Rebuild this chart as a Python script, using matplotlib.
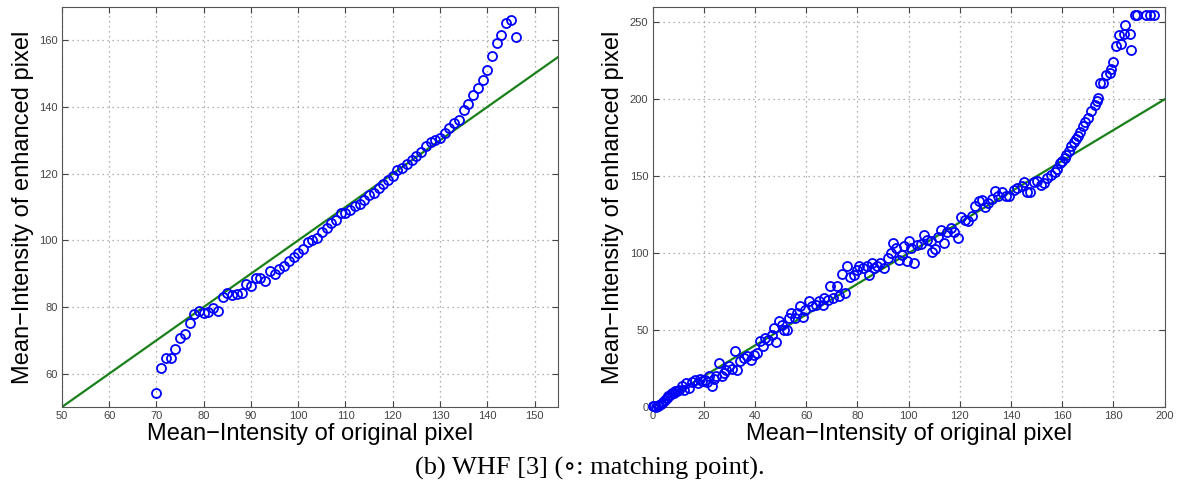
import numpy as np
import matplotlib as mpl
mpl.use('Agg')
import matplotlib.pyplot as plt

# left panel: matching points (original mean intensity -> enhanced mean intensity)
x_left = list(range(70, 147))
y_left = [54.1, 61.6, 64.8, 64.8, 67.3, 70.8, 72.0, 75.3, 77.8, 78.8,
          78.2, 78.6, 79.7, 78.9, 83.0, 84.3, 83.5, 83.9, 84.3, 86.8,
          86.3, 88.8, 88.8, 87.9, 90.7, 90.0, 91.4, 92.3, 93.8, 94.9,
          96.1, 97.4, 99.5, 100.2, 100.7, 102.5, 103.7, 105.2, 106.2, 108.2,
          108.2, 109.0, 110.2, 110.8, 112.2, 113.7, 114.2, 115.7, 117.0, 118.2,
          119.2, 121.2, 121.7, 123.0, 124.0, 125.4, 126.4, 128.2, 129.4, 130.0,
          130.7, 132.2, 133.7, 135.2, 136.2, 139.2, 140.8, 143.6, 145.6, 148.1,
          151.1, 155.3, 159.1, 161.6, 165.3, 166.1, 160.9]

# right panel
x_right = [0, 0.7, 1.3, 2, 2.7, 3.4, 4, 4.8, 5.5, 6.2, 7, 7.5, 8.2, 8.9, 9.6,
           10.3, 11.4, 12.3, 13, 14.4, 15.5, 16.4, 17.8, 18.5, 19.2, 20.5, 21.2,
           22, 23.3, 24, 24.7, 26, 27, 28, 28.8, 30, 31, 32.2, 33, 34, 35.6, 37,
           38.4, 39.7, 40.7, 41.8, 43, 43.8, 45.2, 46.6, 47.3, 48.4, 49.3, 50.4,
           51.4, 52.5, 53.4, 54.1, 55.5, 56.6, 57.5, 58.9, 59.6, 61, 62.3, 63.7,
           65, 66.4, 67, 68.5, 69.2, 70.5, 72, 72.9, 74, 75.3, 76, 77, 78.5, 79.9,
           80.8, 82.2, 83.6, 84.7, 85.6, 86.6, 87.7, 89, 90.4, 91.8, 93.2, 94.1,
           95.2, 96.3, 97.3, 98.2, 99.3, 100, 101, 102, 103.4, 104.8, 106.2,
           107.3, 108.6, 109.2, 110.5, 111.6, 112.7, 114, 115, 116.4, 117.8,
           119.2, 120.5, 122, 123.3, 124.7, 126, 127.4, 128.8, 130, 131, 132.5,
           133.6, 135, 136.6, 138, 139.3, 141, 142.5, 144.2, 145, 146.2, 147.5,
           149, 150, 151.6, 152.7, 154, 155.5, 157, 158, 159, 160, 161, 161.6,
           162.5, 163.5, 164.5, 165.3, 166, 167, 168, 169, 170, 171.4, 172.7,
           173.5, 174, 174.6, 175.9, 177.2, 178.5, 179.2, 180, 181, 182, 183,
           184, 184.7, 186.3, 187, 188.3, 189.2, 192.8, 194.1, 195.7]
y_right = [0.5, 0.4, 0.0, 0.9, 1.5, 2.2, 3.5, 4.8, 6.0, 7.0, 8.0, 9.0, 8.8, 10.2,
           10.5, 11.3, 13.4, 11.3, 15.6, 12.3, 16.0, 17.8, 15.6, 18.0, 17.1, 17.8,
           16.5, 20.0, 13.9, 18.5, 20.0, 28.6, 20.4, 22.0, 24.3, 26.4, 24.7, 36.2,
           24.3, 29.7, 31.8, 33.0, 30.8, 34.0, 35.0, 42.7, 39.4, 44.8, 43.8, 47.0,
           51.3, 42.0, 55.7, 53.5, 50.3, 50.3, 57.8, 61.0, 57.8, 61.0, 65.4, 58.5,
           63.2, 68.7, 65.4, 66.5, 68.7, 66.5, 70.8, 69.8, 78.4, 70.8, 78.4, 72.0,
           86.7, 74.0, 91.4, 84.5, 86.0, 88.8, 91.4, 90.3, 91.4, 85.6, 93.6, 90.3,
           91.4, 93.6, 90.3, 96.8, 100.0, 106.6, 103.3, 95.7, 99.0, 104.4, 94.7,
           108.0, 103.3, 93.6, 105.5, 106.2, 112.0, 108.7, 108.0, 100.7, 102.7,
           110.5, 115.2, 106.6, 114.0, 116.3, 114.0, 109.8, 123.5, 121.7, 120.7,
           124.3, 130.8, 133.7, 134.7, 130.0, 132.6, 135.2, 140.2, 137.0, 140.0,
           137.0, 137.3, 140.8, 142.3, 143.4, 146.0, 140.0, 140.0, 146.0, 146.7,
           144.5, 145.6, 148.8, 151.0, 153.0, 155.0, 158.6, 160.0, 162.0, 164.0,
           166.5, 169.5, 172.0, 174.0, 176.0, 179.0, 182.5, 185.0, 188.0, 192.3,
           196.6, 199.0, 201.0, 210.7, 210.7, 215.5, 216.8, 219.8, 224.0, 234.6,
           241.5, 236.0, 242.6, 248.0, 242.6, 231.8, 255.0, 255.0, 255.0, 255.0,
           255.0]

label_font = ['Liberation Sans Narrow', 'Liberation Sans', 'DejaVu Sans']
blue = (0, 0, 1)
green = (0.1, 0.5, 0.1)

fig = plt.figure(figsize=(11.8, 4.86), dpi=100)
ax1 = fig.add_axes([0.0525, 0.1626, 0.4205, 0.823])
ax2 = fig.add_axes([0.553, 0.1626, 0.434, 0.823])

def style(ax, xlim, ylim, xticks, yticks):
	ax.set_xlim(xlim)
	ax.set_ylim(ylim)
	ax.set_xticks(xticks)
	ax.set_yticks(yticks)
	ax.grid(True, linestyle=(0, (1, 3)), color='#999999', lw=0.9)
	ax.tick_params(direction='in', top=True, right=True, length=4,
		labelsize=8, colors='#444444', pad=3)
	for lab in ax.get_xticklabels() + ax.get_yticklabels():
		lab.set_family(label_font)
	for s in ax.spines.values():
		s.set_color('#555555')
		s.set_linewidth(0.8)
	ax.set_xlabel('Mean\u2212Intensity of original pixel', family=label_font,
		fontsize=17, labelpad=1)
	ax.set_ylabel('Mean\u2212Intensity of enhanced pixel', family=label_font,
		fontsize=17, labelpad=4)

ax1.plot([50, 155], [50, 155], color=green, lw=1.6, zorder=2)
ax1.plot(x_left, y_left, 'o', mfc='none', mec=blue, ms=6.5, mew=1.3, zorder=3)
style(ax1, (50, 155), (50, 170), range(50, 151, 10), range(60, 161, 20))

ax2.plot([0, 200], [0, 200], color=green, lw=1.6, zorder=2)
ax2.plot(x_right, y_right, 'o', mfc='none', mec=blue, ms=6.5, mew=1.3,
	zorder=3, clip_on=False)
style(ax2, (0, 200), (0, 260), range(0, 201, 20), range(0, 251, 50))

fig.text(0.5, 0.036, '(b) WHF [3] (\u2218: matching point).', ha='center',
	va='center', fontsize=19, family=['Liberation Serif', 'DejaVu Serif'])

fig.savefig('out.png', dpi=100)
